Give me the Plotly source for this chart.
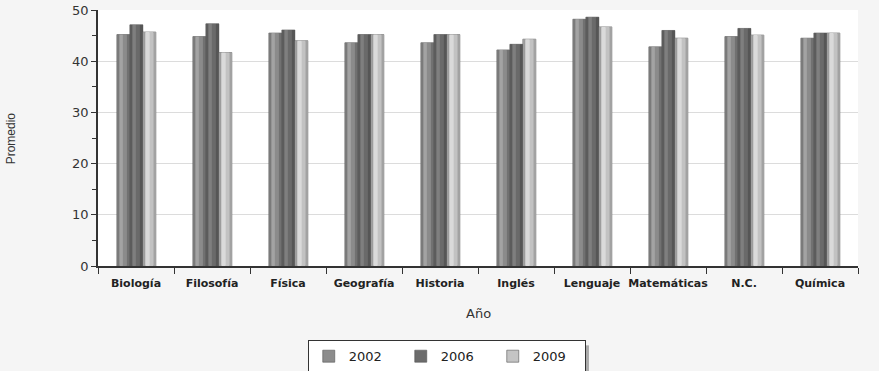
import plotly.graph_objects as go

# Average score per subject and year
asignaturas = ["Biología", "Filosofía", "Física", "Geografía", "Historia",
               "Inglés", "Lenguaje", "Matemáticas", "N.C.", "Química"]
anios = ["2002", "2006", "2009"]
prom_2002 = [45.2, 44.8, 45.5, 43.6, 43.6, 42.2, 48.2, 42.8, 44.8, 44.5]
prom_2006 = [47.1, 47.3, 46.1, 45.2, 45.2, 43.3, 48.6, 46.0, 46.4, 45.5]
prom_2009 = [45.7, 41.7, 44.0, 45.2, 45.2, 44.3, 46.7, 44.5, 45.1, 45.5]
series = [prom_2002, prom_2006, prom_2009]

# Bar geometry (category units) and cylinder-like shading stripes
BAR_W = 0.171
GROUP_START = -0.252
base_colors = ["#8c8c8c", "#6c6c6c", "#c4c4c4"]
stripes = [
    [(0.00, 0.18, "#7a7a7a"), (0.18, 0.45, "#a3a3a3"), (0.45, 0.75, "#8b8b8b"), (0.75, 1.00, "#717171")],
    [(0.00, 0.18, "#5c5c5c"), (0.18, 0.45, "#7f7f7f"), (0.45, 0.75, "#6a6a6a"), (0.75, 1.00, "#565656")],
    [(0.00, 0.18, "#9c9c9c"), (0.18, 0.52, "#dadada"), (0.52, 0.80, "#c2c2c2"), (0.80, 1.00, "#a2a2a2")],
]

fig = go.Figure()
for i, (anio, vals) in enumerate(zip(anios, series)):
    off = GROUP_START + i * BAR_W
    fig.add_trace(go.Bar(
        x=asignaturas, y=vals, name=anio,
        offset=off, width=BAR_W,
        marker=dict(color=base_colors[i], line=dict(color="#555555", width=0.6)),
        hoverinfo="skip", legendgroup=anio,
    ))
    for a, b, col in stripes[i]:
        fig.add_trace(go.Bar(
            x=asignaturas, y=vals, name=anio, showlegend=False,
            offset=off + a * BAR_W + 0.004, width=(b - a) * BAR_W - 0.002,
            marker=dict(color=col, line=dict(width=0)),
            hoverinfo="skip", legendgroup=anio,
        ))

fig.update_layout(
    width=879, height=371,
    margin=dict(l=98, r=21, t=10, b=105, autoexpand=False),
    paper_bgcolor="#f5f5f5", plot_bgcolor="#ffffff",
    barmode="overlay",
    showlegend=True,
    font=dict(family="DejaVu Sans", color="#333333"),
    xaxis=dict(
        type="category", tickson="boundaries", tickangle=0,
        ticks="outside", ticklen=6, tickcolor="#333333",
        ticklabelstandoff=6,
        showline=True, linecolor="#333333", linewidth=1.5,
        tickfont=dict(family="DejaVu Sans", size=11, color="#222222", weight="bold"),
        showgrid=False, range=[-0.5, 9.5], automargin=False,
    ),
    yaxis=dict(
        range=[0, 50], dtick=10, tick0=0,
        ticks="outside", ticklen=5, tickcolor="#333333",
        minor=dict(dtick=5, ticks="outside", ticklen=4, tickcolor="#333333", showgrid=False),
        showline=True, linecolor="#333333", linewidth=1.5,
        gridcolor="#dcdcdc", gridwidth=1,
        tickfont=dict(family="DejaVu Sans", size=13, color="#333333"),
        zeroline=False, automargin=False,
    ),
    legend=dict(
        orientation="h", x=0.276, xanchor="left", y=-0.29, yanchor="top",
        bgcolor="#ffffff", bordercolor="#333333", borderwidth=1,
        font=dict(family="DejaVu Sans", size=13, color="#222222"),
        entrywidth=47, entrywidthmode="pixels",
        traceorder="normal",
    ),
    annotations=[
        dict(text="Año", xref="paper", yref="paper", x=0.5, y=-0.184,
             xanchor="center", yanchor="middle", showarrow=False,
             font=dict(family="DejaVu Sans", size=13, color="#333333")),
        dict(text="Promedio", xref="paper", yref="paper", x=-0.114, y=0.5,
             xanchor="center", yanchor="middle", showarrow=False, textangle=-90,
             font=dict(family="Liberation Sans", size=12, color="#333333")),
    ],
    shapes=[
        dict(type="rect", xref="paper", yref="paper",
             x0=0.636, x1=0.646, y0=-0.31, y1=-0.45,
             fillcolor="#aaaaaa", line=dict(width=0), layer="below"),
    ],
)

fig.write_html("out.html")
